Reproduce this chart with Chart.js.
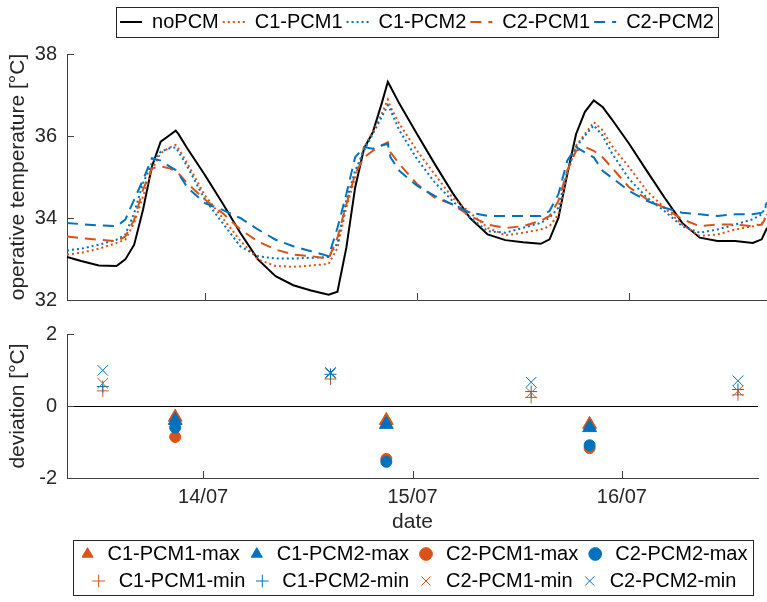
<!DOCTYPE html>
<html>
<head>
<meta charset="utf-8">
<script src="https://cdn.jsdelivr.net/npm/chart.js@4.4.1/dist/chart.umd.min.js"></script>
<style>
  body { margin: 0; background: #fff; }
  #wrap { position: relative; width: 767px; height: 602px; }
  canvas { position: absolute; left: 0; }
  #tempChart { top: 0; }
  #devChart { top: 305px; }
</style>
</head>
<body>
<div id="wrap">
  <canvas id="tempChart" width="767" height="322"></canvas>
  <canvas id="devChart" width="767" height="297"></canvas>
</div>
<script>
// x values are hours counted from 13/07 00:00
const hours = [8.4, 10, 12, 14, 15, 16, 17, 18, 19, 20, 20.7, 21, 22, 24, 26, 28, 30, 32, 34, 36,
  38, 39, 40, 41, 42, 43, 44, 44.7, 45, 46, 48, 50, 52, 54, 56, 58, 60, 62, 63, 64,
  65, 66, 67, 68, 69, 70, 72, 74, 76, 78, 80, 82, 84, 86, 87, 87.6];

const noPCM = [33.05, 32.95, 32.84, 32.83, 32.99, 33.35, 34.2, 35.25, 35.86, 36.02, 36.13, 36.05, 35.7, 35.05, 34.36, 33.64, 32.99, 32.58, 32.36, 32.23,
  32.13, 32.2, 33.27, 34.74, 35.69, 36.09, 36.79, 37.32, 37.2, 36.79, 36.05, 35.32, 34.62, 34.0, 33.6, 33.46, 33.41, 33.37, 33.48, 34.0,
  35.07, 36.05, 36.59, 36.87, 36.71, 36.42, 35.81, 35.15, 34.5, 33.88, 33.52, 33.44, 33.44, 33.39, 33.48, 33.76];
const c1pcm1 = [33.11, 33.15, 33.25, 33.39, 33.47, 33.88, 34.53, 35.17, 35.58, 35.72, 35.78, 35.7, 35.34, 34.55, 34.0, 33.45, 32.99, 32.83, 32.81, 32.84,
  32.88, 33.27, 34.25, 34.99, 35.73, 36.09, 36.54, 36.89, 36.71, 36.3, 35.64, 35.07, 34.5, 34.13, 33.76, 33.58, 33.64, 33.72, 33.8, 34.09,
  35.07, 35.77, 36.05, 36.34, 36.14, 35.77, 35.24, 34.66, 34.25, 33.84, 33.56, 33.6, 33.72, 33.8, 33.86, 34.09];
const c1pcm2 = [33.21, 33.25, 33.35, 33.47, 33.6, 34.12, 34.85, 35.34, 35.62, 35.7, 35.72, 35.62, 35.26, 34.45, 33.88, 33.31, 33.07, 33.01, 33.01, 33.03,
  33.05, 33.39, 34.42, 35.15, 35.64, 36.05, 36.46, 36.75, 36.63, 36.14, 35.44, 34.87, 34.42, 34.01, 33.68, 33.64, 33.76, 33.88, 34.01, 34.25,
  35.15, 35.73, 36.01, 36.26, 36.01, 35.6, 34.95, 34.5, 34.17, 33.8, 33.64, 33.72, 33.84, 33.97, 34.09, 34.34];
const c2pcm1 = [33.55, 33.51, 33.47, 33.43, 33.55, 33.96, 34.69, 35.21, 35.26, 35.21, 35.15, 35.09, 34.85, 34.45, 34.12, 33.72, 33.43, 33.23, 33.11, 33.07,
  33.01, 33.52, 34.33, 35.07, 35.48, 35.64, 35.77, 35.85, 35.6, 35.32, 34.83, 34.5, 34.33, 34.05, 33.84, 33.76, 33.8, 33.93, 34.05, 34.42,
  35.15, 35.64, 35.73, 35.64, 35.48, 35.24, 34.75, 34.46, 34.25, 33.97, 33.8, 33.84, 33.84, 33.8, 33.84, 34.05];
const c2pcm2 = [33.88, 33.85, 33.82, 33.8, 33.96, 34.45, 34.93, 35.46, 35.4, 35.26, 35.17, 35.09, 34.75, 34.36, 34.2, 34.0, 33.72, 33.47, 33.31, 33.19,
  33.07, 33.76, 34.58, 35.48, 35.73, 35.69, 35.77, 35.81, 35.48, 35.15, 34.79, 34.54, 34.33, 34.13, 34.05, 34.05, 34.05, 34.05, 34.17, 34.58,
  35.4, 35.73, 35.6, 35.48, 35.15, 34.99, 34.66, 34.42, 34.25, 34.13, 34.09, 34.05, 34.09, 34.09, 34.13, 34.38];

// deviations (PCM - noPCM) at the daily peaks and troughs
const maxTimes = [20.8, 45.0, 68.3];
const minTimes = [12.5, 38.6, 61.6, 85.3];
const c1pcm1Max = [-0.31, -0.4, -0.51];
const c1pcm2Max = [-0.4, -0.51, -0.6];
const c2pcm1Max = [-0.86, -1.47, -1.17];
const c2pcm2Max = [-0.6, -1.55, -1.09];
const c1pcm1Min = [0.42, 0.75, 0.24, 0.31];
const c1pcm2Min = [0.54, 0.88, 0.4, 0.46];
const c2pcm1Min = [0.63, 0.9, 0.37, 0.42];
const c2pcm2Min = [0.99, 0.93, 0.66, 0.7];

const dayTicks = [24, 48, 72];
const dayLabels = ['14/07', '15/07', '16/07'];
const xMin = 8.4, xMax = 87.6;

const orange = '#D95319';
const blue = '#0072BD';
const axisColor = '#404040';

Chart.defaults.font.family = "'Liberation Sans', Arial, sans-serif";
Chart.defaults.font.size = 20;
Chart.defaults.color = '#262626';

// MATLAB style: ticks point into the axes
const innerTicks = {
  id: 'innerTicks',
  afterDatasetsDraw(chart) {
    const {ctx, chartArea: a, scales: {x, y}} = chart;
    ctx.save();
    ctx.strokeStyle = axisColor;
    ctx.lineWidth = 1;
    ctx.beginPath();
    x.ticks.forEach(t => {
      const px = Math.round(x.getPixelForValue(t.value)) + 0.5;
      ctx.moveTo(px, a.bottom);
      ctx.lineTo(px, a.bottom - 7);
    });
    y.ticks.forEach(t => {
      const py = Math.round(y.getPixelForValue(t.value)) + 0.5;
      ctx.moveTo(a.left, py);
      ctx.lineTo(a.left + 7, py);
    });
    ctx.stroke();
    ctx.restore();
  }
};

// fixed legend height + a frame around the legend items
const legendBox = {
  id: 'legendBox',
  beforeInit(chart, args, opts) {
    const legend = chart.legend;
    const fit = legend.fit;
    legend.fit = function () {
      fit.call(this);
      this.height = opts.height;
    };
  },
  afterDraw(chart, args, opts) {
    const boxes = chart.legend.legendHitBoxes;
    if (!boxes || !boxes.length) return;
    const x0 = Math.min(...boxes.map(b => b.left)) - opts.padX;
    const x1 = Math.max(...boxes.map(b => b.left + b.width)) + opts.padX;
    const y0 = Math.min(...boxes.map(b => b.top)) - opts.padY;
    const y1 = Math.max(...boxes.map(b => b.top + b.height)) + opts.padY;
    const ctx = chart.ctx;
    ctx.save();
    ctx.strokeStyle = '#262626';
    ctx.lineWidth = 1;
    ctx.strokeRect(Math.round(x0) + 0.5, Math.round(y0) + 0.5, Math.round(x1 - x0), Math.round(y1 - y0));
    ctx.restore();
  }
};

function dateAxis(showLabels, height) {
  return {
    type: 'linear',
    min: xMin,
    max: xMax,
    afterBuildTicks: s => { s.ticks = dayTicks.map(v => ({value: v})); },
    afterFit: s => { s.height = height; },
    grid: {display: false, drawTicks: false},
    border: {color: axisColor},
    ticks: {
      display: showLabels,
      padding: 7,
      maxRotation: 0,
      autoSkip: false,
      callback: v => dayLabels[dayTicks.indexOf(v)]
    },
    title: {display: showLabels, text: 'date', font: {size: 21}, padding: {top: 0, bottom: 2}}
  };
}

function valueAxis(min, max, label, gridColor) {
  return {
    min: min,
    max: max,
    afterFit: s => { s.width = 67; },
    ticks: {stepSize: 2, padding: 10},
    grid: {drawTicks: false, color: gridColor, lineWidth: 1},
    border: {color: axisColor},
    title: {display: true, text: label, font: {size: 21}, padding: {top: 6, bottom: 0}}
  };
}

const lineSeries = [
  {label: 'noPCM', values: noPCM, color: '#000000', dash: []},
  {label: 'C1-PCM1', values: c1pcm1, color: orange, dash: [2, 3]},
  {label: 'C1-PCM2', values: c1pcm2, color: blue, dash: [2, 3]},
  {label: 'C2-PCM1', values: c2pcm1, color: orange, dash: [11, 7]},
  {label: 'C2-PCM2', values: c2pcm2, color: blue, dash: [11, 7]}
];

// the bottom tick label of the y axis reserves 22px below the plot,
// so the canvas is 17px taller than the visible panel
const tempChart = new Chart(document.getElementById('tempChart'), {
  type: 'line',
  data: {
    datasets: lineSeries.map((s, i) => ({
      label: s.label,
      data: hours.map((h, k) => ({x: h, y: s.values[k]})),
      borderColor: s.color,
      backgroundColor: s.color,
      borderDash: s.dash,
      borderWidth: 2,
      pointRadius: 0,
      tension: 0,
      order: lineSeries.length - i
    }))
  },
  options: {
    responsive: false,
    animation: false,
    devicePixelRatio: 1,
    layout: {padding: {top: 8, left: 0, right: 0, bottom: 0}},
    scales: {
      x: dateAxis(false, 5),
      y: valueAxis(32, 38, 'operative temperature [°C]', 'rgba(0,0,0,0)')
    },
    plugins: {
      tooltip: {enabled: false},
      legend: {
        position: 'top',
        fullSize: false,
        labels: {
          usePointStyle: true,
          pointStyleWidth: 22,
          padding: 4,
          color: '#000',
          font: {size: 20},
          generateLabels: chart => chart.data.datasets.map((ds, i) => ({
            text: ds.label,
            datasetIndex: i,
            strokeStyle: ds.borderColor,
            fillStyle: ds.borderColor,
            lineWidth: 2,
            lineDash: ds.borderDash,
            pointStyle: 'line',
            hidden: false
          }))
        }
      },
      legendBox: {height: 46, padX: 4, padY: 5}
    }
  },
  plugins: [legendBox, innerTicks]
});

const devSeries = [
  {label: 'C1-PCM1-max', x: maxTimes, y: c1pcm1Max, color: orange, style: 'triangle', r: 8},
  {label: 'C1-PCM2-max', x: maxTimes, y: c1pcm2Max, color: blue, style: 'triangle', r: 8},
  {label: 'C2-PCM1-max', x: maxTimes, y: c2pcm1Max, color: orange, style: 'circle', r: 5.5},
  {label: 'C2-PCM2-max', x: maxTimes, y: c2pcm2Max, color: blue, style: 'circle', r: 5.5},
  {label: 'C1-PCM1-min', x: minTimes, y: c1pcm1Min, color: orange, style: 'cross', r: 6},
  {label: 'C1-PCM2-min', x: minTimes, y: c1pcm2Min, color: blue, style: 'cross', r: 6},
  {label: 'C2-PCM1-min', x: minTimes, y: c2pcm1Min, color: orange, style: 'crossRot', r: 7.5},
  {label: 'C2-PCM2-min', x: minTimes, y: c2pcm2Min, color: blue, style: 'crossRot', r: 7.5}
];

const devChart = new Chart(document.getElementById('devChart'), {
  type: 'scatter',
  data: {
    datasets: devSeries.map((s, i) => ({
      label: s.label,
      data: s.x.map((t, k) => ({x: t, y: s.y[k]})),
      pointStyle: s.style,
      pointRadius: s.r,
      borderWidth: 1,
      borderColor: s.color,
      backgroundColor: s.color,
      order: -i
    }))
  },
  options: {
    responsive: false,
    animation: false,
    devicePixelRatio: 1,
    layout: {padding: {top: 29, left: 0, right: 0, bottom: 0}},
    scales: {
      x: dateAxis(true, 59),
      y: valueAxis(-2, 2, 'deviation [°C]', c => c.tick.value === 0 ? '#000000' : 'rgba(0,0,0,0)')
    },
    plugins: {
      tooltip: {enabled: false},
      legend: {
        position: 'bottom',
        fullSize: false,
        labels: {
          usePointStyle: true,
          boxHeight: 9,
          padding: 7,
          color: '#000',
          font: {size: 20},
          sort: (a, b) => a.datasetIndex - b.datasetIndex
        }
      },
      legendBox: {height: 65, padX: 5, padY: 4}
    }
  },
  plugins: [legendBox, innerTicks]
});
</script>
</body>
</html>
